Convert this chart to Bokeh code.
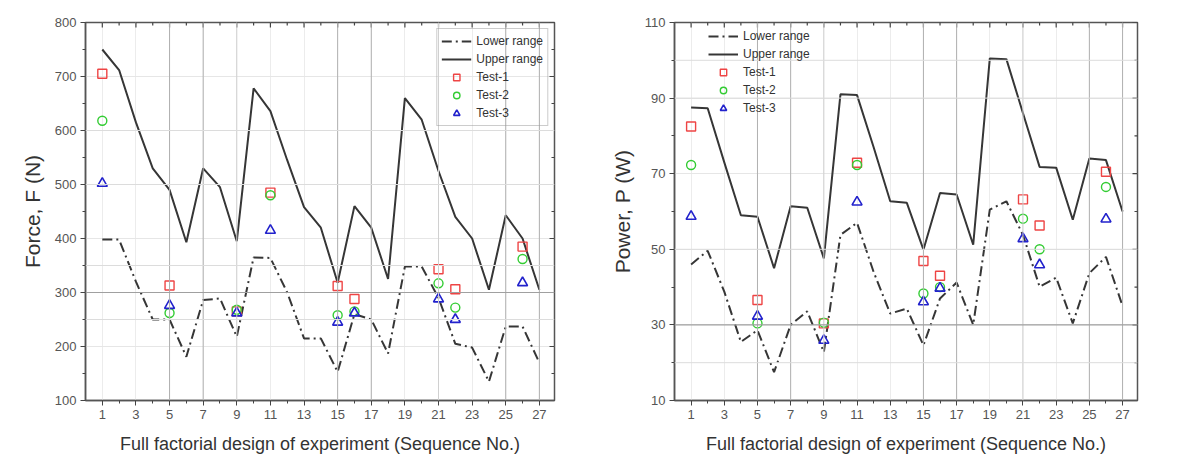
import math
from bokeh.plotting import figure
from bokeh.layouts import row
from bokeh.models import (FixedTicker, Span, Legend, LegendItem, Range1d)
from bokeh.embed import file_html
from bokeh.resources import INLINE

seq = list(range(1, 28))

force_upper = [750, 712, 615, 530, 490, 393, 530, 495, 395, 678, 636, 545, 458, 420,
               318, 460, 420, 325, 660, 620, 525, 440, 400, 305, 443, 400, 305]
force_lower = [398, 398, 320, 250, 250, 181, 286, 289, 218, 365, 364, 300, 215, 215,
               153, 260, 250, 187, 348, 348, 290, 205, 198, 135, 237, 237, 170]

power_upper = [87.5, 87.3, 73, 59, 58.6, 45, 61.4, 61, 47.6, 91, 90.8, 77, 62.7, 62.3,
               49.9, 64.9, 64.5, 51.2, 100.5, 100.3, 86, 71.8, 71.6, 57.8, 74, 73.6, 60]
power_lower = [46, 49.6, 38.8, 25.5, 28.6, 17.5, 30, 33.6, 22.8, 53.8, 57, 44, 33, 34.3,
               24.6, 37, 41.2, 30, 60.5, 62.7, 53.8, 40.1, 42.5, 30.4, 43.7, 48, 35]

test_seq = [1, 5, 9, 11, 15, 16, 21, 22, 26]
force_test1 = [705, 313, 265, 485, 312, 288, 343, 306, 385]
force_test2 = [618, 262, 268, 480, 258, 265, 317, 272, 362]
force_test3 = [502, 276, 262, 415, 245, 262, 288, 250, 318]
power_test1 = [82.5, 36.6, 30.4, 72.9, 46.9, 43.0, 63.2, 56.3, 70.5]
power_test2 = [72.3, 30.4, 30.6, 72.3, 38.3, 40.0, 58.1, 50.0, 66.5]
power_test3 = [58.7, 32.3, 25.9, 62.5, 36.1, 39.7, 52.8, 45.9, 58.0]

x_ticks = [1, 3, 5, 7, 9, 11, 13, 15, 17, 19, 21, 23, 25, 27]
x_minor = [2, 4, 6, 8, 10, 12, 14, 16, 18, 20, 22, 24, 26]
force_ticks = [100, 200, 300, 400, 500, 600, 700, 800]
force_minor = [150, 250, 350, 450, 550, 650, 750]
power_ticks = [10, 30, 50, 70, 90, 110]
power_minor = [20, 40, 60, 80, 100]
dark_vlines = [5, 7, 15, 17, 25, 27]
light_vlines = [9, 21]

FONT = "Liberation Sans"
LINE_COL = "#363636"
AX_COL = "#555555"
C1, C2, C3 = "#ee4444", "#33cc33", "#2222cc"
X_LO, X_HI = 0.0, 27.9


def make_fig(upper, lower, t1, t2, t3, y_lo, y_hi, yticks, yminor, y_label, dark_h,
             light_h, legend_loc, frame_w, b_left, b_right, legend_border):
    p = figure(frame_width=frame_w, frame_height=378, output_backend="svg",
               toolbar_location=None,
               x_range=Range1d(X_LO, X_HI), y_range=Range1d(y_lo, y_hi),
               min_border_left=b_left, min_border_right=b_right,
               min_border_top=22, min_border_bottom=66)
    p.outline_line_color = AX_COL
    p.outline_line_width = 1.5
    p.background_fill_color = "white"

    xt = FixedTicker(ticks=x_ticks, minor_ticks=x_minor)
    yt = FixedTicker(ticks=yticks, minor_ticks=yminor)
    p.xaxis.ticker = xt
    p.yaxis.ticker = yt
    for ax in (p.xaxis[0], p.yaxis[0]):
        ax.axis_line_color = AX_COL
        ax.axis_line_width = 1.5
        ax.major_tick_out = 5
        ax.major_tick_in = 0
        ax.minor_tick_out = 3
        ax.minor_tick_in = 0
        ax.major_tick_line_color = "#444444"
        ax.minor_tick_line_color = "#444444"
        ax.major_label_text_font = FONT
        ax.major_label_text_font_size = "13px"
        ax.major_label_text_color = "#555555"
        ax.major_label_standoff = 4
        ax.axis_label_text_font = FONT
        ax.axis_label_text_font_style = "normal"
        ax.axis_label_text_color = "#333333"
    p.xaxis.axis_label = "Full factorial design of experiment (Sequence No.)"
    p.xaxis.axis_label_text_font_size = "18px"
    p.xaxis.axis_label_standoff = 12
    p.yaxis.axis_label = y_label
    p.yaxis.axis_label_text_font_size = "21px"
    p.yaxis.axis_label_standoff = 8

    p.xgrid.ticker = xt
    p.ygrid.ticker = yt
    p.xgrid.grid_line_color = "#ececec"
    p.ygrid.grid_line_color = "#e6e6e6"
    for v in dark_vlines:
        p.add_layout(Span(location=v, dimension="height", line_color="#b0b0b0", line_width=1))
    for v in light_vlines:
        p.add_layout(Span(location=v, dimension="height", line_color="#d0d0d0", line_width=1))
    for h in dark_h:
        p.add_layout(Span(location=h, dimension="width", line_color="#a0a0a0", line_width=1.2))
    for h in light_h:
        p.add_layout(Span(location=h, dimension="width", line_color="#dcdcdc", line_width=1))

    # mirrored inward ticks on top and right edges
    p.scatter(x_ticks, [y_hi] * len(x_ticks), marker="dash", angle=math.pi / 2, size=10,
              line_color="#444444", line_width=1.2)
    p.scatter(x_minor, [y_hi] * len(x_minor), marker="dash", angle=math.pi / 2, size=6,
              line_color="#444444", line_width=1.2)
    p.scatter([X_HI] * len(yticks), yticks, marker="dash", size=10,
              line_color="#444444", line_width=1.2)
    p.scatter([X_HI] * len(yminor), yminor, marker="dash", size=6,
              line_color="#444444", line_width=1.2)

    rl = p.line(seq, lower, line_color=LINE_COL, line_width=2, line_dash="10 4 2 4")
    ru = p.line(seq, upper, line_color=LINE_COL, line_width=2)
    r1 = p.scatter(test_seq, t1, marker="square", size=9, fill_color=None,
                   line_color=C1, line_width=1.4)
    r2 = p.scatter(test_seq, t2, marker="circle", size=9, fill_color=None,
                   line_color=C2, line_width=1.4)
    r3 = p.scatter(test_seq, t3, marker="triangle", size=10, fill_color=None,
                   line_color=C3, line_width=1.6)

    leg = Legend(items=[LegendItem(label="Lower range", renderers=[rl]),
                        LegendItem(label="Upper range", renderers=[ru]),
                        LegendItem(label="Test-1", renderers=[r1]),
                        LegendItem(label="Test-2", renderers=[r2]),
                        LegendItem(label="Test-3", renderers=[r3])],
                 location=legend_loc)
    leg.label_text_font = FONT
    leg.label_text_font_size = "12px"
    leg.label_text_color = "#333333"
    leg.glyph_width = 30
    leg.glyph_height = 16
    leg.label_height = 16
    leg.spacing = 2
    leg.padding = 4
    leg.margin = 6
    leg.background_fill_alpha = 0.0
    leg.border_line_color = "#999999" if legend_border else None
    p.add_layout(leg)
    return p


p1 = make_fig(force_upper, force_lower, force_test1, force_test2, force_test3,
              100, 800, force_ticks, force_minor, "Force, F (N)", [300],
              [250, 350, 500, 600], "top_right", 469, 85, 35, True)
p2 = make_fig(power_upper, power_lower, power_test1, power_test2, power_test3,
              10, 110, power_ticks, power_minor, "Power, P (W)", [30],
              [20, 50, 90, 100], (34, 284), 463, 85, 40, False)

layout = row(p1, p2)
open("out.html", "w").write(file_html(layout, INLINE))
